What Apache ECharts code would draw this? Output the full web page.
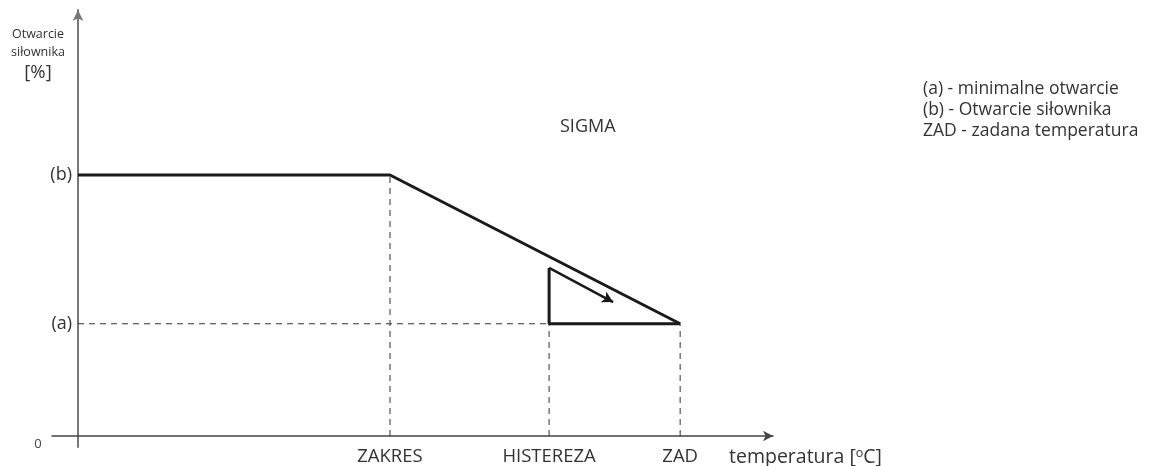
<!DOCTYPE html>
<html><head><meta charset="utf-8">
<script src="https://cdn.jsdelivr.net/npm/echarts@6/dist/echarts.min.js"></script>
<style>html,body{margin:0;padding:0;background:#fff}#c{width:1149px;height:466px}</style>
</head><body><div id="c"></div>
<script>
// ---- data ----
const xTickValues = [10, 15.1, 19.3];
const xTickLabels = ['ZAKRES', 'HISTEREZA', 'ZAD'];
const yTickValues = [43, 100];
const yTickLabels = ['(a)', '(b)'];
const openingCurve = [[0, 100], [10, 100], [19.3, 43]];
const hysteresisShape = [[19.3, 43], [15.1, 43], [15.1, 64.4]];
const hysteresisArrow = [[15.1, 64.4], [17.15, 51.3]];
const guideLines = [
  [[0, 43], [15.1, 43]],
  [[10, 0], [10, 100]],
  [[15.1, 0], [15.1, 43]],
  [[19.3, 0], [19.3, 43]]
];
const legendLines = ['(a) - minimalne otwarcie', '(b) - Otwarcie siłownika', 'ZAD - zadana temperatura'];
const xName = 'temperatura [{sup|o}C]';
const yNameLines = ['Otwarcie', 'siłownika', '[%]'];
const chartTitle = 'SIGMA';

// ---- chart ----
const FONT = 'Open Sans';
const TXT = '#333';
const chart = echarts.init(document.getElementById('c'), null, {renderer: 'canvas'});

const series = [];
guideLines.forEach(seg => series.push({
  type: 'line', data: seg, symbol: 'none', silent: true,
  lineStyle: {color: '#333', width: 1, type: [6, 5]}, z: 2
}));
series.push({
  type: 'line', data: openingCurve, symbol: 'none', silent: true,
  lineStyle: {color: '#1a1a1a', width: 3}, z: 5
});
series.push({
  type: 'line', data: hysteresisShape, symbol: 'none', silent: true,
  lineStyle: {color: '#1a1a1a', width: 3}, z: 5,
  markLine: {
    silent: true, symbol: ['none', 'arrow'], symbolSize: [9, 11],
    label: {show: false},
    lineStyle: {color: '#1a1a1a', width: 2.5, type: 'solid'},
    data: [[{coord: hysteresisArrow[0]}, {coord: hysteresisArrow[1]}]]
  }
});

chart.setOption({
  animation: false,
  backgroundColor: '#fff',
  textStyle: {fontFamily: FONT},
  grid: {left: 52, right: 376, top: 10, bottom: 19, containLabel: false, outerBoundsMode: 'none'},
  title: {
    text: chartTitle, left: 555, top: 113,
    textStyle: {fontFamily: FONT, fontSize: 18, fontWeight: 'normal', color: TXT}
  },
  xAxis: {
    type: 'value', min: -0.833, max: 22.276,
    axisLine: {onZero: true, lineStyle: {color: '#444', width: 1.5}, symbol: ['none', 'arrow'], symbolSize: [8, 10]},
    axisTick: {show: false},
    splitLine: {show: false},
    axisLabel: {
      customValues: xTickValues, margin: 0, fontSize: 18.5, color: TXT, fontFamily: FONT,
      formatter: v => xTickLabels[xTickValues.indexOf(v)] ?? ''
    },
    name: xName, nameLocation: 'end', nameGap: -44,
    nameTextStyle: {
      fontFamily: FONT, fontSize: 19.5, color: TXT, align: 'left', verticalAlign: 'top', padding: [11, 0, 0, 0],
      rich: {sup: {fontFamily: FONT, fontSize: 12.5, color: TXT, verticalAlign: 'top', padding: [0, 0, 7, 0]}}
    }
  },
  yAxis: {
    type: 'value', min: -4.21, max: 163.2,
    axisLine: {onZero: true, lineStyle: {color: '#777', width: 2}, symbol: ['none', 'arrow'], symbolSize: [8, 11]},
    axisTick: {show: false},
    splitLine: {show: false},
    axisLabel: {
      customValues: yTickValues, margin: -20, fontSize: 18, color: TXT, fontFamily: FONT,
      formatter: v => yTickLabels[yTickValues.indexOf(v)] ?? ''
    }
  },
  graphic: [
    {type: 'text', x: 38, y: 444, style: {text: '0', font: '13px "Open Sans"', fill: '#444', align: 'center', verticalAlign: 'middle'}},
    {type: 'text', x: 38, y: 34, style: {text: yNameLines[0], font: '12.5px "Open Sans"', fill: TXT, align: 'center', verticalAlign: 'middle'}},
    {type: 'text', x: 38, y: 52, style: {text: yNameLines[1], font: '12.5px "Open Sans"', fill: TXT, align: 'center', verticalAlign: 'middle'}},
    {type: 'text', x: 38, y: 73, style: {text: yNameLines[2], font: '18.5px "Open Sans"', fill: TXT, align: 'center', verticalAlign: 'middle'}},
    {type: 'text', x: 923, y: 89, style: {text: legendLines[0], font: '17.5px "Open Sans"', fill: TXT, verticalAlign: 'middle'}},
    {type: 'text', x: 923, y: 110, style: {text: legendLines[1], font: '17.5px "Open Sans"', fill: TXT, verticalAlign: 'middle'}},
    {type: 'text', x: 923, y: 131, style: {text: legendLines[2], font: '17.5px "Open Sans"', fill: TXT, verticalAlign: 'middle'}}
  ],
  series: series
});
</script></body></html>
